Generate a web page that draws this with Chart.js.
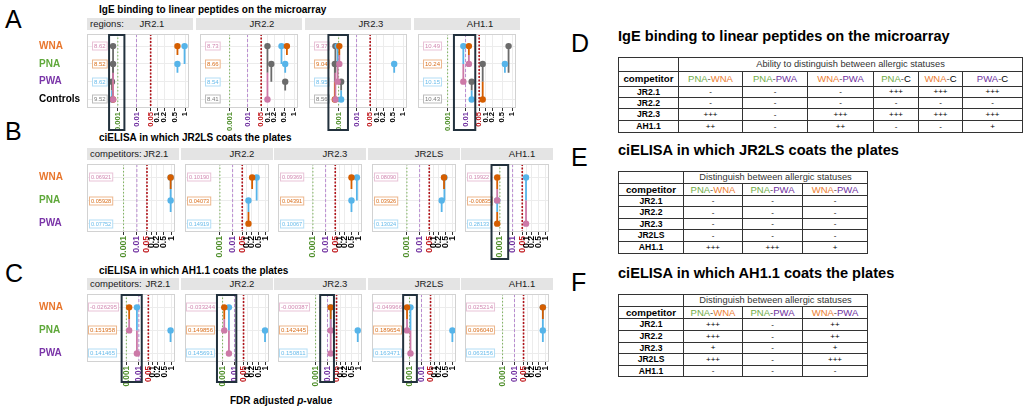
<!DOCTYPE html>
<html>
<head>
<meta charset="utf-8">
<title>FDR adjusted p-value panels</title>
<script src="https://cdn.jsdelivr.net/npm/chart.js@4.4.1/dist/chart.umd.min.js"></script>
<style>
  body { margin:0; width:1026px; height:411px; position:relative; overflow:hidden; background:#fff;
         font-family:"Liberation Sans", Arial, Helvetica, sans-serif; color:#000; }
  .lbl { position:absolute; white-space:nowrap; line-height:1; }
  .letter { font-size:25px; }
  .ptitle { font-size:10px; font-weight:bold; }
  .ttitle { font-size:14.6px; font-weight:bold; }
  .strip { position:absolute; height:12px; line-height:12px; background:#e4e4e4; font-size:9.5px; color:#1a1a1a;
           text-align:center; box-sizing:border-box; white-space:nowrap; overflow:hidden; }
  .strip .pre { position:absolute; left:3px; top:0; }
  .facet { position:absolute; }
  table.tbl { position:absolute; border-collapse:collapse; table-layout:fixed; font-size:9.5px; border:1.5px solid #333; }
  table.tbl td { border:1px solid #333; padding:0; text-align:center; line-height:1; overflow:hidden; white-space:nowrap; }
  td.nm { font-weight:bold; font-size:8.6px; }
  td.mk { font-size:8px; }
  td.cap { color:#333; font-size:9.3px; }
</style>
</head>
<body>
<script>
// ---- panel A: IgE binding on the microarray ----
const aFacets = ['JR2.1', 'JR2.2', 'JR2.3', 'AH1.1'];
const aRows = ['WNA', 'PNA', 'PWA', 'Controls'];
const aPairs = [['WNA','PNA'], ['WNA','PWA'], ['PNA','PWA'], ['WNA','Controls'], ['PNA','Controls'], ['PWA','Controls']];
const aPvals = [
  [0.63, 0.98, 0.63, 0.00054, 0.00054, 0.00047],
  [0.63, 0.40, 0.55, 0.10, 0.15, 0.55],
  [0.0011, 0.00088, 0.55, 0.00065, 0.0006, 0.0014],
  [0.015, 0.0076, 0.63, 0.82, 0.074, 0.021]
];
const aLabels = [['8.62','8.52','8.62','9.52'], ['8.73','8.66','8.54','8.41'], ['9.37','9.04','8.95','8.56'], ['10.49','10.24','10.15','10.43']];
const aBoxes = [[0.00032, 0.0023], null, [0.00025, 0.0034], [0.0023, 0.032]];

// ---- panel B: ciELISA, JR2LS coats ----
const bFacets = ['JR2.1', 'JR2.2', 'JR2.3', 'JR2LS', 'AH1.1'];
const bRows = ['WNA', 'PNA', 'PWA'];
const bPairs = [['WNA','PNA'], ['WNA','PWA'], ['PNA','PWA']];
const bPvals = [[0.95, 0.95, 0.95], [0.22, 0.40, 0.13], [0.50, 0.88, 0.50], [0.42, 0.44, 0.31], [0.0006, 0.09, 0.0006]];
const bLabels = [['0.06921','0.05928','0.07752'], ['0.10190','0.04073','0.14919'], ['0.09369','0.04391','0.10067'],
                 ['0.08090','0.03926','0.13024'], ['0.19922','-0.00835','0.28133']];
const bBoxes = [null, null, null, null, [0.0002, 0.0046]];

// ---- panel C: ciELISA, AH1.1 coats ----
const cFacets = ['JR2.1', 'JR2.2', 'JR2.3', 'JR2LS', 'AH1.1'];
const cRows = ['WNA', 'PNA', 'PWA'];
const cPairs = [['WNA','PNA'], ['WNA','PWA'], ['PNA','PWA']];
const cPvals = [[0.0017, 0.0071, 0.95], [0.0014, 0.0035, 0.97], [0.018, 0.018, 0.95], [0.0006, 0.0012, 0.99], [0.8, 0.8, 0.8]];
const cLabels = [['-0.026295','0.151958','0.141465'], ['-0.033244','0.149856','0.145691'], ['-0.000387','0.142445','0.150811'],
                 ['-0.049966','0.189654','0.163471'], ['0.025214','0.096040','0.063156']];
const cBoxes = [[0.0004, 0.0166], [0.00032, 0.014], [0.0025, 0.032], [0.00027, 0.0042], null];

// ---- axis ticks and cut-offs ----
const pTicks = [0.001, 0.01, 0.05, 0.1, 0.2, 0.5, 1];
const refP = [0.001, 0.01, 0.05];

// ---- tables D, E, F ----
const dCols = ['PNA-WNA', 'PNA-PWA', 'WNA-PWA', 'PNA-C', 'WNA-C', 'PWA-C'];
const dComps = ['JR2.1', 'JR2.2', 'JR2.3', 'AH1.1'];
const dMarks = [['-','-','-','+++','+++','+++'], ['-','-','-','-','-','-'], ['+++','-','+++','+++','+++','+++'], ['++','-','++','-','-','+']];
const eCols = ['PNA-WNA', 'PNA-PWA', 'WNA-PWA'];
const eComps = ['JR2.1', 'JR2.2', 'JR2.3', 'JR2LS', 'AH1.1'];
const eMarks = [['-','-','-'], ['-','-','-'], ['-','-','-'], ['-','-','-'], ['+++','+++','+']];
const fCols = ['PNA-WNA', 'PNA-PWA', 'WNA-PWA'];
const fComps = ['JR2.1', 'JR2.2', 'JR2.3', 'JR2LS', 'AH1.1'];
const fMarks = [['+++','-','++'], ['+++','-','++'], ['+','-','+'], ['+++','-','+++'], ['-','-','-']];

// ---- styles ----
const FONT = '"Liberation Sans", Arial, sans-serif';
const groupColor = { WNA:'#CC79A7', PNA:'#D55E00', PWA:'#56B4E9', Controls:'#6b6b6b' };
const rowTextColor = { WNA:'#E8772E', PNA:'#5FA83A', PWA:'#7A35A8', Controls:'#000000' };
const tableColor = { PNA:'#70AD47', WNA:'#ED7D31', PWA:'#7030A0' };
const tickColor = { '0.001':'#4f8f2b', '0.01':'#7030A0', '0.05':'#C0161B' };
const refStyle = [
  { color:'#7db35c', dash:[1.5, 2], width:1 },
  { color:'#b98bd0', dash:[3, 2], width:1 },
  { color:'#b0141a', dash:[2, 1.5], width:1.6 }
];

Chart.defaults.font.family = FONT;
Chart.defaults.animation = false;

// x axis: p-values spread on a power of -log10(p)
const P_POWER = 0.8;
function pTransform(p) {
  const q = -Math.log10(p);
  return -Math.sign(q) * Math.pow(Math.abs(q), P_POWER);
}
class PValueScale extends Chart.LinearScale {
  getPixelForValue(value) {
    return value === null ? NaN : super.getPixelForValue(pTransform(value));
  }
  getValueForPixel(pixel) {
    const t = super.getValueForPixel(pixel);
    const q = -Math.sign(t) * Math.pow(Math.abs(t), 1 / P_POWER);
    return Math.pow(10, -q);
  }
}
PValueScale.id = 'pvalue';
PValueScale.defaults = {};
Chart.register(PValueScale);

const panels = [
  { facets:aFacets, rows:aRows, pairs:aPairs, pvals:aPvals, labels:aLabels, boxes:aBoxes, prefix:'regions:',
    x0:87, facetW:106, step:109, stripTop:18, top:30, plotH:78, canvasH:101, boxBottom:100,
    ymin:-0.68, ymax:3.48, tmin:-3.51, tmax:0.136, labelDx:5, valueFont:6, tickFont:7.6, pad0:24, pad:26 },
  { facets:bFacets, rows:bRows, pairs:bPairs, pvals:bPvals, labels:bLabels, boxes:bBoxes, prefix:'competitors:',
    x0:87, facetW:92, step:93.6, stripTop:148, top:160, plotH:72, canvasH:100, boxBottom:99,
    ymin:-0.58, ymax:2.36, tmin:-4.24, tmax:0.17, labelDx:2, valueFont:5.6, tickFont:8.6, pad0:46, pad:30 },
  { facets:cFacets, rows:cRows, pairs:cPairs, pvals:cPvals, labels:cLabels, boxes:cBoxes, prefix:'competitors:',
    x0:87, facetW:92, step:93.6, stripTop:278, top:290, plotH:72, canvasH:97, boxBottom:92,
    ymin:-0.58, ymax:2.37, tmin:-4.51, tmax:0.19, labelDx:1, valueFont:6, tickFont:8.2, pad0:50, pad:30 }
];
const ROWLABEL_X = 39;

function addText(html, cls, left, top) {
  const el = document.createElement('div');
  el.className = 'lbl ' + cls;
  el.innerHTML = html;
  el.style.left = left + 'px';
  el.style.top = top + 'px';
  document.body.appendChild(el);
  return el;
}

function facetPlugin(panel, fi) {
  return {
    id: 'facetDeco',
    beforeDatasetsDraw(chart) {
      const { ctx, chartArea: a } = chart;
      const y = chart.scales.y;
      ctx.save();
      ctx.font = panel.valueFont + 'px ' + FONT;
      ctx.textBaseline = 'middle';
      panel.labels[fi].forEach((txt, i) => {
        const col = groupColor[panel.rows[i]];
        const yy = Math.round(y.getPixelForValue(i));
        const w = ctx.measureText(txt).width + 4, h = 9;
        const x0 = a.left + panel.labelDx;
        ctx.fillStyle = 'rgba(255,255,255,0.92)';
        ctx.fillRect(x0, yy - h / 2, w, h);
        ctx.globalAlpha = 0.45;
        ctx.strokeStyle = col;
        ctx.lineWidth = 1;
        ctx.strokeRect(x0 + 0.5, yy - h / 2 + 0.5, w - 1, h - 1);
        ctx.globalAlpha = 0.9;
        ctx.fillStyle = col;
        ctx.fillText(txt, x0 + 2, yy + 0.5);
        ctx.globalAlpha = 1;
      });
      ctx.restore();
    },
    afterDraw(chart) {
      const { ctx, chartArea: a } = chart;
      const x = chart.scales.x;
      ctx.save();
      ctx.strokeStyle = '#d2d2d2';
      ctx.lineWidth = 1;
      ctx.strokeRect(a.left + 0.5, a.top + 0.5, a.width - 1, a.height - 1);
      const box = panel.boxes[fi];
      if (box) {
        const x1 = x.getPixelForValue(box[0]), x2 = x.getPixelForValue(box[1]);
        ctx.strokeStyle = '#22313d';
        ctx.lineWidth = 2;
        ctx.strokeRect(x1, a.top + 1, x2 - x1, panel.boxBottom - a.top - 1);
      }
      ctx.restore();
    }
  };
}

function makeFacet(panel, fi) {
  const first = fi === 0;
  const left = Math.round(panel.x0 + fi * panel.step);
  const cLeft = first ? ROWLABEL_X : left;
  const yAxisW = left - cLeft;

  // strip
  const strip = document.createElement('div');
  strip.className = 'strip';
  strip.style.left = left + 'px';
  strip.style.top = panel.stripTop + 'px';
  strip.style.width = panel.facetW + 'px';
  strip.style.paddingLeft = (first ? panel.pad0 : panel.pad) + 'px';
  strip.textContent = panel.facets[fi];
  if (first) {
    const pre = document.createElement('span');
    pre.className = 'pre';
    pre.textContent = panel.prefix;
    strip.appendChild(pre);
  }
  document.body.appendChild(strip);

  const div = document.createElement('div');
  div.className = 'facet';
  div.style.left = cLeft + 'px';
  div.style.top = panel.top + 'px';
  div.style.width = (panel.facetW + yAxisW) + 'px';
  div.style.height = panel.canvasH + 'px';
  const cv = document.createElement('canvas');
  div.appendChild(cv);
  document.body.appendChild(div);

  const datasets = [];
  panel.pairs.forEach((pr, k) => {
    const p = panel.pvals[fi][k];
    const i1 = panel.rows.indexOf(pr[0]), i2 = panel.rows.indexOf(pr[1]);
    const c1 = groupColor[pr[0]], c2 = groupColor[pr[1]];
    datasets.push({
      data: [{ x:p, y:i1 }, { x:p, y:(i1 + i2) / 2 }, { x:p, y:i2 }],
      borderColor: c2,
      borderWidth: 1.8,
      segment: { borderColor: ctx => ctx.p0DataIndex === 0 ? c2 : c1 },
      pointRadius: [3.2, 0, 3.2],
      pointBackgroundColor: [c2, c2, c1],
      pointBorderColor: [c2, c2, c1],
      pointBorderWidth: 0
    });
  });
  refP.forEach((p, k) => {
    datasets.push({
      data: [{ x:p, y:panel.ymin }, { x:p, y:panel.ymax }],
      borderColor: refStyle[k].color,
      borderDash: refStyle[k].dash,
      borderWidth: refStyle[k].width,
      pointRadius: 0,
      order: 5
    });
  });

  new Chart(cv, {
    type: 'line',
    data: { datasets },
    options: {
      responsive: true,
      maintainAspectRatio: false,
      events: [],
      layout: { padding: 0 },
      plugins: { legend: { display:false }, tooltip: { enabled:false } },
      scales: {
        x: {
          type: 'pvalue',
          min: panel.tmin,
          max: panel.tmax,
          bounds: 'data',
          afterBuildTicks: s => { s.ticks = pTicks.map(v => ({ value: v })); },
          afterFit: s => { s.height = panel.canvasH - panel.plotH; s.paddingLeft = 0; s.paddingRight = 0; },
          ticks: {
            autoSkip: false, minRotation: 90, maxRotation: 90, padding: 1,
            color: ctx => tickColor[String(ctx.tick.value)] || '#000',
            font: { size: panel.tickFont, weight: 'bold' },
            callback: v => String(v)
          },
          grid: { color:'#ececec', tickColor:'#333', tickLength:3 },
          border: { display:false }
        },
        y: {
          type: 'linear',
          reverse: true,
          min: panel.ymin,
          max: panel.ymax,
          afterBuildTicks: s => { s.ticks = panel.rows.map((r, i) => ({ value: i })); },
          afterFit: s => { s.width = yAxisW; s.paddingTop = 0; s.paddingBottom = 0; },
          ticks: {
            display: first, crossAlign: 'far', padding: 0,
            color: ctx => rowTextColor[panel.rows[ctx.index]],
            font: { size: 10, weight: 'bold' },
            callback: v => panel.rows[v]
          },
          grid: { color:'#ececec', drawTicks:false },
          border: { display:false }
        }
      }
    },
    plugins: [facetPlugin(panel, fi)]
  });
}

function pairHtml(c) {
  return c.split('-').map(g => `<span style="color:${tableColor[g] || '#000'}">${g}</span>`).join('<span style="color:#555">-</span>');
}

function makeTable(left, top, colW, rowH, caption, cols, comps, marks) {
  const t = document.createElement('table');
  t.className = 'tbl';
  t.style.left = left + 'px';
  t.style.top = top + 'px';
  t.style.width = colW.reduce((s, w) => s + w, 0) + 'px';
  let html = '<colgroup>' + colW.map(w => `<col style="width:${w}px">`).join('') + '</colgroup><tbody>';
  html += `<tr style="height:${rowH[0]}px"><td></td><td class="cap" colspan="${cols.length}">${caption}</td></tr>`;
  html += `<tr style="height:${rowH[1]}px"><td class="nm" style="font-size:9.7px">competitor</td>` +
          cols.map(c => `<td>${pairHtml(c)}</td>`).join('') + '</tr>';
  comps.forEach((nm, i) => {
    html += `<tr style="height:${rowH[i + 2]}px"><td class="nm">${nm}</td>` +
            marks[i].map(m => `<td class="mk">${m}</td>`).join('') + '</tr>';
  });
  t.innerHTML = html + '</tbody>';
  document.body.appendChild(t);
}

// ---- text ----
addText('A', 'letter', 5, 7);
addText('B', 'letter', 5, 119);
addText('C', 'letter', 5, 261);
addText('D', 'letter', 571, 31);
addText('E', 'letter', 571, 145);
addText('F', 'letter', 571, 270);
addText('IgE binding to linear peptides on the microarray', 'ptitle', 99, 5);
addText('ciELISA in which JR2LS coats the plates', 'ptitle', 99, 133);
addText('ciELISA in which AH1.1 coats the plates', 'ptitle', 99, 266);
addText('FDR adjusted <i>p</i>-value', 'ptitle', 230, 396);
addText('IgE binding to linear peptides on the microarray', 'ttitle', 618, 29);
addText('ciELISA in which JR2LS coats the plates', 'ttitle', 618, 143);
addText('ciELISA in which AH1.1 coats the plates', 'ttitle', 618, 266);

// ---- charts ----
panels.forEach(panel => panel.facets.forEach((f, fi) => makeFacet(panel, fi)));

// ---- tables ----
makeTable(618, 57, [60, 64, 65, 66, 45, 44, 60], [14, 15, 11, 11, 12, 12],
          'Ability to distinguish between allergic statuses', dCols, dComps, dMarks);
makeTable(618, 171, [65, 59, 60, 65], [12, 12, 11, 12, 11, 12, 12],
          'Distinguish between allergic statuses', eCols, eComps, eMarks);
makeTable(618, 294, [65, 59, 60, 65], [12, 12, 12, 12, 11, 12, 11],
          'Distinguish between allergic statuses', fCols, fComps, fMarks);
</script>
</body>
</html>
